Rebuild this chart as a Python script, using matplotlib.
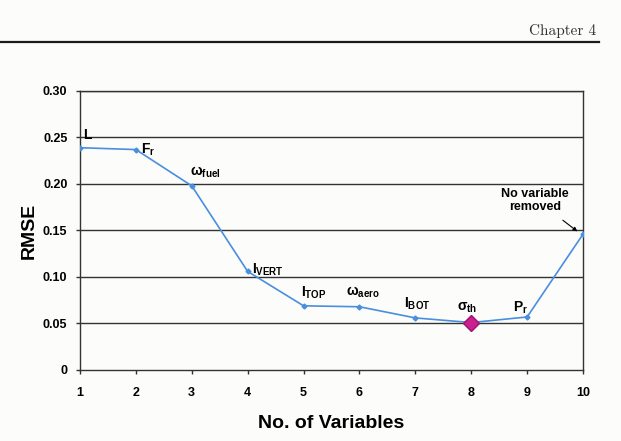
import matplotlib
matplotlib.use('Agg')
import matplotlib.pyplot as plt

###### DATA ######
n_vars = [1, 2, 3, 4, 5, 6, 7, 8, 9, 10]
rmse = [0.239, 0.237, 0.198, 0.106, 0.069, 0.068, 0.056, 0.051, 0.057, 0.146]
labels = [r'$\mathbf{L}$', r'$\mathbf{F_r}$', r'$\mathbf{\omega_{fuel}}$', r'$\mathbf{I_{VERT}}$',
          r'$\mathbf{I_{TOP}}$', r'$\mathbf{\omega_{aero}}$', r'$\mathbf{I_{BOT}}$',
          r'$\mathbf{\sigma_{th}}$', r'$\mathbf{P_r}$']
best = 8  # minimum RMSE
yticks = [0, 0.05, 0.10, 0.15, 0.20, 0.25, 0.30]
yticklabels = ['0', '0.05', '0.10', '0.15', '0.20', '0.25', '0.30']

# label offsets in points (dx, dy) relative to the data point
offsets = [(2, 4), (4, -6), (-1, 4), (3, -5), (-2, 3.5), (-10, 5), (-8, 4), (-10, 5.5), (-10, 1)]

plt.rcParams['font.family'] = 'Liberation Sans'
plt.rcParams['font.weight'] = 'bold'
plt.rcParams['mathtext.fontset'] = 'custom'
plt.rcParams['mathtext.rm'] = 'Liberation Sans:bold'
plt.rcParams['mathtext.it'] = 'Liberation Sans:bold'
plt.rcParams['mathtext.bf'] = 'Liberation Sans:bold'

fig = plt.figure(figsize=(6.21, 4.41), dpi=100, facecolor='#fcfcfa')
ax = fig.add_axes([0.1288, 0.161, 0.81, 0.6327])
ax.set_facecolor('#fcfcfa')

# header
fig.text(0.96, 0.92, 'Chapter 4', family='cmr10', fontweight='normal', fontsize=11,
         color='#333333', ha='right', va='baseline')
fig.add_artist(plt.Line2D([0, 0.965], [0.905, 0.905], color='#1a1a1a', lw=1.6))

# grid lines
for yv in yticks[1:]:
    ax.axhline(yv, color='#333333', lw=1.0, zorder=1)

ax.plot(n_vars, rmse, color='#4a8ede', lw=1.2, marker='D', ms=2.5, zorder=3)
ax.plot(n_vars[best - 1], rmse[best - 1], marker='D', ms=8, color='#c8208e',
        markeredgecolor='#a01070', zorder=4)

for i, lab in enumerate(labels):
    ax.annotate(lab, (n_vars[i], rmse[i]), xytext=offsets[i], textcoords='offset points',
                fontsize=10, ha='left', va='bottom', zorder=5)

ax.text(9.14, 0.169, 'No variable\nremoved', ha='center', va='bottom', fontsize=9,
        linespacing=1.1)
ax.annotate('', xy=(9.9, 0.149), xytext=(9.64, 0.161),
            arrowprops=dict(arrowstyle='-|>', color='black', lw=0.8, mutation_scale=6,
                            shrinkA=0, shrinkB=0))

ax.set_xlim(1, 10)
ax.set_ylim(0, 0.30)
ax.set_xticks(n_vars)
ax.set_yticks(yticks)
ax.set_yticklabels(yticklabels)
ax.tick_params(axis='both', labelsize=9, length=3, width=1, color='#333333', pad=6)
ax.tick_params(axis='x', pad=9)
for s in ax.spines.values():
    s.set_color('#333333')
    s.set_linewidth(1.0)

ax.set_xlabel('No. of Variables', fontsize=14, fontweight='bold', labelpad=12)
ax.set_ylabel('RMSE', fontsize=14, fontweight='bold', labelpad=4)

fig.savefig('out.png', dpi=100, facecolor=fig.get_facecolor())
